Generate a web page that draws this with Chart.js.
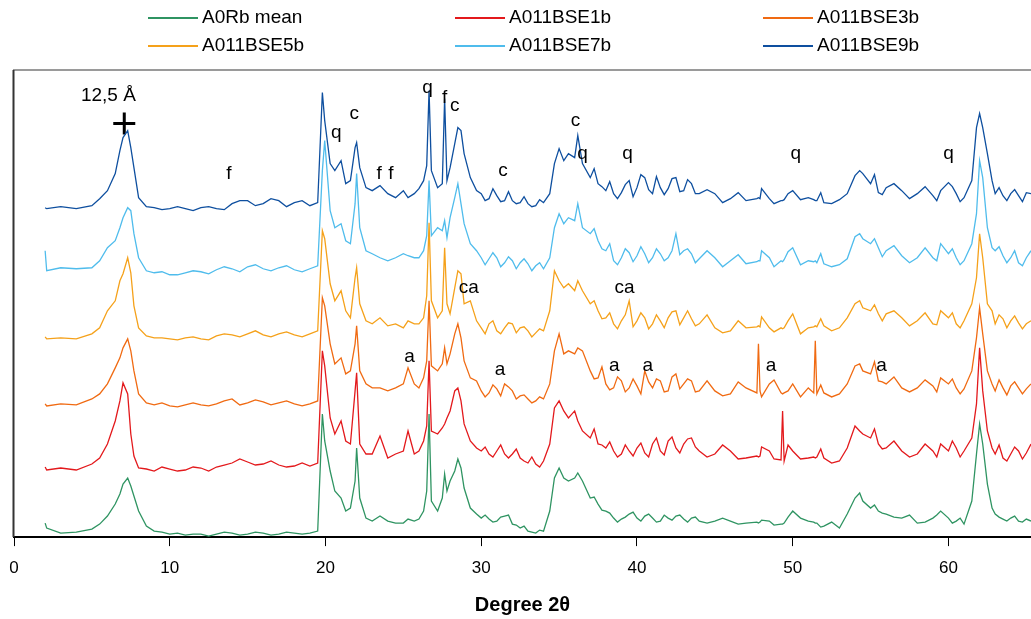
<!DOCTYPE html>
<html>
<head>
<meta charset="utf-8">
<script src="https://cdn.jsdelivr.net/npm/chart.js@4"></script>
<style>
  html, body { margin: 0; padding: 0; background: #fff; }
  #wrap { width: 1031px; height: 619px; position: relative; }
</style>
</head>
<body>
<div id="wrap"><canvas id="xrd-chart"></canvas></div>
<script>
// 2theta positions (degrees) shared by all patterns
const twoTheta = [
  2, 2.1, 3, 4, 5, 5.5, 6, 6.5, 6.8, 7,
  7.3, 7.5, 7.7, 8, 8.5, 9, 10, 11, 12, 13,
  14, 15, 16, 17, 18, 19, 19.5, 19.8, 19.95, 20.3,
  20.6, 21, 21.3, 21.6, 21.9, 22, 22.2, 22.6, 23, 23.5,
  24, 24.5, 25, 25.3, 25.7, 26, 26.3, 26.5, 26.65, 26.8,
  27.2, 27.5, 27.65, 27.8, 28, 28.3, 28.5, 28.7, 28.9, 29.3,
  29.7, 30, 30.5, 31, 31.5, 32, 32.5, 33, 33.5, 34,
  34.4, 34.7, 35, 35.3, 35.6, 36, 36.2, 36.5, 37, 37.5,
  38, 38.5, 39, 39.5, 40, 40.5, 41, 41.5, 42, 42.5,
  43, 43.5, 44, 45, 46, 47, 47.7, 47.8, 47.9, 48.5,
  49.25, 49.35, 49.45, 50, 51, 51.35, 51.45, 51.55, 52, 53,
  53.5, 54, 54.3, 54.5, 55, 55.5, 56, 57, 58, 59,
  59.5, 60, 60.5, 61, 61.5, 61.8, 62, 62.2, 62.5, 62.8,
  63, 63.5, 64, 64.5, 65, 65.3
];

// intensities (arbitrary units, patterns stacked with offsets as in the figure)
const a0rbMean = [
  14, 9, 4, 5, 8, 13, 21, 33, 43, 53,
  59, 51, 41, 26, 11, 6, 3, 2, 3, 3,
  4, 3, 4, 3, 4, 4, 6, 123, 96, 66,
  46, 39, 26, 29, 56, 89, 39, 19, 16, 21,
  16, 14, 14, 18, 16, 18, 26, 46, 123, 36,
  26, 39, 63, 46, 56, 66, 78, 69, 49, 29,
  23, 19, 18, 16, 21, 13, 9, 6, 4, 6,
  26, 59, 69, 59, 56, 59, 64, 56, 39, 33,
  26, 19, 18, 23, 19, 21, 19, 16, 19, 21,
  18, 19, 16, 16, 16, 14, 15, 14, 15, 16,
  13, 13, 14, 26, 16, 15, 14, 14, 11, 9,
  23, 39, 44, 36, 29, 26, 23, 19, 14, 19,
  26, 19, 16, 13, 36, 83, 113, 93, 53, 29,
  23, 18, 19, 16, 18, 16
];
const bse1b = [
  70, 67, 69, 67, 73, 79, 93, 116, 136, 154,
  143, 103, 81, 69, 68, 66, 68, 67, 69, 70,
  74, 75, 73, 72, 71, 71, 74, 186, 171, 119,
  103, 116, 96, 93, 146, 164, 93, 83, 83, 101,
  79, 83, 86, 106, 83, 86, 96, 111, 176, 106,
  103, 109, 113, 119, 126, 146, 149, 136, 113, 96,
  89, 86, 83, 86, 83, 83, 79, 74, 73, 76,
  93, 129, 136, 126, 119, 126, 116, 106, 99, 93,
  89, 86, 83, 86, 89, 84, 93, 86, 96, 89,
  93, 99, 86, 83, 86, 79, 81, 80, 81, 86,
  77, 126, 76, 86, 79, 80, 79, 80, 79, 76,
  89, 111, 106, 103, 99, 93, 89, 86, 83, 86,
  93, 86, 89, 86, 99, 133, 189, 146, 106, 89,
  83, 79, 83, 86, 84, 93
];
const bse3b = [
  133, 131, 133, 132, 138, 143, 153, 169, 179, 189,
  198, 186, 166, 143, 134, 132, 131, 132, 132, 133,
  138, 134, 135, 134, 133, 133, 136, 239, 231, 193,
  173, 179, 163, 166, 193, 211, 166, 153, 149, 149,
  146, 149, 153, 169, 153, 149, 159, 176, 236, 171,
  166, 173, 189, 173, 183, 203, 213, 199, 176, 159,
  156, 146, 144, 148, 153, 146, 141, 138, 136, 138,
  153, 186, 203, 183, 186, 183, 189, 186, 166, 159,
  153, 149, 156, 149, 151, 166, 149, 156, 146, 163,
  153, 156, 146, 146, 143, 149, 144, 193, 146, 153,
  144, 143, 144, 153, 149, 144, 196, 143, 144, 143,
  153, 171, 173, 166, 163, 156, 153, 149, 149, 151,
  159, 153, 149, 148, 166, 199, 229, 203, 166, 153,
  146, 149, 151, 149, 148, 153
];
const bse5b = [
  200, 198, 199, 198, 203, 209, 226, 236, 256, 263,
  279, 264, 231, 209, 201, 199, 198, 199, 198, 201,
  202, 203, 202, 203, 202, 203, 206, 306, 298, 253,
  236, 246, 226, 219, 259, 269, 233, 216, 213, 219,
  211, 213, 209, 216, 213, 213, 219, 241, 314, 236,
  219, 226, 289, 233, 223, 249, 266, 263, 233, 236,
  216, 209, 213, 206, 209, 213, 209, 206, 204, 206,
  226, 266, 256, 249, 253, 246, 256, 246, 233, 226,
  219, 213, 216, 236, 216, 219, 213, 216, 219, 226,
  219, 218, 213, 209, 206, 209, 210, 211, 210, 209,
  209, 208, 209, 223, 209, 210, 211, 210, 211, 209,
  219, 233, 236, 229, 226, 223, 223, 219, 216, 213,
  226, 219, 213, 216, 233, 259, 303, 279, 233, 226,
  213, 218, 216, 214, 213, 216
];
const bse7b = [
  286, 266, 269, 268, 269, 276, 289, 296, 309, 319,
  329, 326, 303, 279, 266, 264, 262, 264, 265, 267,
  268, 270, 268, 269, 267, 268, 271, 366, 396, 326,
  309, 313, 296, 293, 333, 363, 309, 286, 283, 279,
  276, 279, 283, 281, 279, 279, 286, 301, 356, 301,
  309, 306, 316, 299, 319, 339, 353, 333, 313, 293,
  286, 279, 278, 279, 274, 276, 274, 273, 271, 268,
  279, 309, 323, 313, 319, 316, 333, 309, 303, 296,
  286, 276, 279, 284, 281, 283, 279, 283, 279, 303,
  286, 283, 278, 279, 276, 273, 275, 276, 276, 279,
  276, 275, 277, 289, 276, 275, 276, 274, 273, 272,
  278, 300, 303, 298, 293, 289, 286, 281, 279, 279,
  293, 283, 279, 276, 293, 323, 376, 359, 309, 289,
  286, 281, 279, 274, 279, 286
];
const bse9b = [
  329, 328, 330, 328, 331, 338, 346, 363, 386, 399,
  406, 389, 369, 339, 330, 329, 328, 328, 329, 328,
  333, 336, 333, 336, 334, 331, 334, 444, 416, 373,
  366, 376, 353, 356, 389, 394, 369, 349, 346, 351,
  343, 339, 346, 339, 343, 348, 356, 371, 446, 366,
  349, 353, 438, 356, 369, 393, 409, 406, 383, 359,
  346, 343, 338, 341, 336, 336, 334, 333, 331, 334,
  343, 373, 388, 376, 383, 379, 401, 373, 359, 353,
  346, 343, 344, 356, 349, 359, 343, 349, 348, 359,
  346, 353, 343, 343, 338, 336, 338, 339, 338, 338,
  336, 336, 337, 346, 339, 337, 336, 336, 334, 337,
  343, 361, 366, 363, 353, 344, 349, 346, 343, 341,
  346, 354, 343, 339, 356, 409, 423, 409, 383, 356,
  343, 341, 343, 341, 344, 343
];

// extra readings in the noisy stretches (same series order)
const fineTheta = [
  9.5, 10.5, 11.5, 12.5, 13.5, 14.5, 15.5, 16.5, 17.5, 18.5,
  30.25, 30.75, 31.25, 31.75, 32.25, 32.75, 33.25, 33.75,
  37.25, 37.75, 38.25, 38.75, 39.25, 39.75, 40.25, 40.75, 41.25, 41.75, 42.25, 42.75, 43.25, 43.75,
  44.5, 45.5, 46.5, 48, 48.8, 49.7, 50.5, 51.8, 52.5,
  55.25, 55.75, 56.5, 57.5, 58.5, 59.25, 60.25, 60.75,
  63.25, 63.75, 64.25, 64.75
];
const a0rbMeanFine = [
  5, 4, 3, 1, 5, 2, 5, 2, 5, 3,
  22, 15, 20, 22, 12, 11, 5, 7,
  40, 27, 24, 15, 20, 25, 16, 23, 15, 22, 17, 22, 15, 20,
  14, 19, 13, 17, 12, 20, 19, 10, 15,
  32, 24, 20, 22, 15, 22, 14, 19,
  20, 16, 21, 15
];
const bse1bFine = [
  70, 66, 70, 66, 72, 78, 72, 76, 70, 74,
  90, 80, 92, 79, 88, 76, 80, 70,
  108, 92, 95, 80, 92, 81, 94, 80, 99, 82, 100, 84, 98, 90,
  80, 92, 78, 90, 78, 92, 78, 88, 74,
  108, 88, 96, 80, 93, 80, 96, 80,
  92, 76, 90, 78
];
const bse3bFine = [
  134, 130, 134, 131, 136, 132, 137, 132, 136, 131,
  140, 152, 141, 150, 138, 142, 134, 140,
  158, 170, 147, 160, 145, 158, 143, 155, 158, 145, 160, 148, 158, 145,
  156, 141, 155, 140, 157, 146, 140, 152, 140,
  175, 155, 160, 145, 157, 145, 158, 143,
  157, 142, 155, 143
];
const bse5bFine = [
  199, 197, 200, 197, 203, 200, 206, 200, 205, 200,
  203, 216, 203, 214, 204, 210, 200, 208,
  236, 218, 224, 208, 222, 210, 224, 208, 222, 209, 225, 212, 226, 211,
  222, 204, 216, 220, 205, 216, 203, 218, 206,
  232, 216, 226, 211, 224, 212, 224, 209,
  222, 209, 221, 208
];
const bse7bFine = [
  265, 262, 266, 263, 270, 265, 272, 266, 271, 265,
  272, 284, 270, 280, 268, 278, 266, 274,
  308, 288, 293, 272, 288, 275, 290, 274, 288, 276, 286, 282, 288, 274,
  286, 270, 282, 286, 270, 285, 272, 283, 270,
  298, 280, 291, 274, 289, 276, 288, 272,
  290, 274, 286, 271
];
const bse9bFine = [
  327, 330, 326, 330, 327, 336, 331, 338, 330, 336,
  336, 348, 335, 345, 333, 340, 330, 337,
  368, 350, 355, 338, 352, 340, 362, 347, 360, 342, 358, 345, 357, 343,
  347, 334, 344, 348, 333, 343, 337, 344, 333,
  362, 342, 353, 338, 350, 336, 350, 335,
  349, 336, 347, 335
];

const seriesNames = ["A0Rb mean", "A011BSE1b", "A011BSE3b", "A011BSE5b", "A011BSE7b", "A011BSE9b"];
const seriesColors = ["#2f9462", "#e3191c", "#f06a12", "#f5a11a", "#4fbcec", "#0e4f9f"];
const seriesData = [a0rbMean, bse1b, bse3b, bse5b, bse7b, bse9b];
const seriesFine = [a0rbMeanFine, bse1bFine, bse3bFine, bse5bFine, bse7bFine, bse9bFine];

// mineral labels (q, c, f, ca, a) placed at 2theta / intensity
const labelText = ["12,5 Å", "f", "q", "c", "f", "f", "q", "f", "c", "c", "c", "q", "q", "q", "q",
                   "ca", "ca", "a", "a", "a", "a", "a", "a"];
const labelTheta = [6.06, 13.8, 20.7, 21.85, 23.45, 24.2, 26.55, 27.65, 28.3, 31.4, 36.05, 36.5, 39.4, 50.2, 60.0,
                    29.2, 39.2, 25.4, 31.2, 38.55, 40.7, 48.6, 55.7];
const labelIntensity = [441, 363, 404, 423, 363, 363, 449, 439, 431, 366, 416, 383, 383, 383, 383,
                        249, 249, 180, 167, 171, 171, 171, 171];

// the 12,5 A reflection marker
const markerTheta = [7.08];
const markerIntensity = [413];

const xTicks = [0, 10, 20, 30, 40, 50, 60];

const FONT = "'Liberation Sans', Arial, sans-serif";

const datasets = seriesData.map((arr, i) => {
  const pts = twoTheta.map((t, j) => ({ x: t, y: arr[j] }))
    .concat(fineTheta.map((t, j) => ({ x: t, y: seriesFine[i][j] })))
    .sort((a, b) => a.x - b.x);
  return {
    label: seriesNames[i],
    data: pts,
    borderColor: seriesColors[i],
    backgroundColor: seriesColors[i],
    borderWidth: 1.3,
    pointRadius: 0,
    tension: 0,
    fill: false
  };
});

datasets.push({
  label: "marker",
  type: "scatter",
  data: markerTheta.map((t, j) => ({ x: t, y: markerIntensity[j] })),
  pointStyle: "cross",
  pointRadius: 11,
  borderWidth: 3,
  borderColor: "#000",
  backgroundColor: "#000"
});

const decor = {
  id: "decor",
  afterDraw(chart) {
    const { ctx, chartArea, scales } = chart;
    const xs = scales.x, ys = scales.y;
    ctx.save();

    // frame: grey top, dark left
    ctx.strokeStyle = "#9a9a9a";
    ctx.lineWidth = 2;
    ctx.beginPath();
    ctx.moveTo(chartArea.left - 1, chartArea.top);
    ctx.lineTo(chart.width, chartArea.top);
    ctx.stroke();
    ctx.strokeStyle = "#333";
    ctx.beginPath();
    ctx.moveTo(chartArea.left - 0.5, chartArea.top);
    ctx.lineTo(chartArea.left - 0.5, chartArea.bottom);
    ctx.stroke();

    // legend, 3 columns x 2 rows
    const colX = [148, 455, 763];
    const rowY = [18, 46];
    ctx.font = "19px " + FONT;
    ctx.textBaseline = "middle";
    ctx.textAlign = "left";
    seriesNames.forEach((name, i) => {
      const x = colX[i % 3], y = rowY[Math.floor(i / 3)];
      ctx.strokeStyle = seriesColors[i];
      ctx.lineWidth = 2;
      ctx.beginPath();
      ctx.moveTo(x, y);
      ctx.lineTo(x + 50, y);
      ctx.stroke();
      ctx.fillStyle = "#000";
      ctx.fillText(name, x + 54, y);
    });

    // peak labels
    ctx.font = "19px " + FONT;
    ctx.textAlign = "center";
    ctx.fillStyle = "#000";
    labelText.forEach((t, i) => {
      ctx.fillText(t, xs.getPixelForValue(labelTheta[i]), ys.getPixelForValue(labelIntensity[i]));
    });

    // axis title
    ctx.font = "bold 20px " + FONT;
    ctx.fillText("Degree 2θ", (chartArea.left + chart.width) / 2, 605);
    ctx.restore();
  }
};

new Chart(document.getElementById("xrd-chart").getContext("2d"), {
  type: "line",
  data: { datasets },
  options: {
    responsive: true,
    maintainAspectRatio: false,
    animation: false,
    layout: { autoPadding: false, padding: { left: 14, right: 0, top: 70, bottom: 28.5 } },
    plugins: {
      legend: { display: false },
      tooltip: { enabled: false }
    },
    scales: {
      x: {
        type: "linear",
        min: 0,
        max: 65.3,
        afterBuildTicks: axis => { axis.ticks = xTicks.map(v => ({ value: v })); },
        afterFit: axis => { axis.paddingLeft = 0; axis.paddingRight = 0; },
        grid: { display: true, drawOnChartArea: false, drawTicks: true, tickLength: 9, color: "#000", lineWidth: 1 },
        border: { display: true, color: "#000", width: 2 },
        ticks: {
          autoSkip: false,
          maxRotation: 0,
          padding: 12,
          color: "#000",
          font: { family: FONT, size: 17 }
        }
      },
      y: {
        display: false,
        min: 0,
        max: 466.5
      }
    }
  },
  plugins: [decor]
});
</script>
</body>
</html>
